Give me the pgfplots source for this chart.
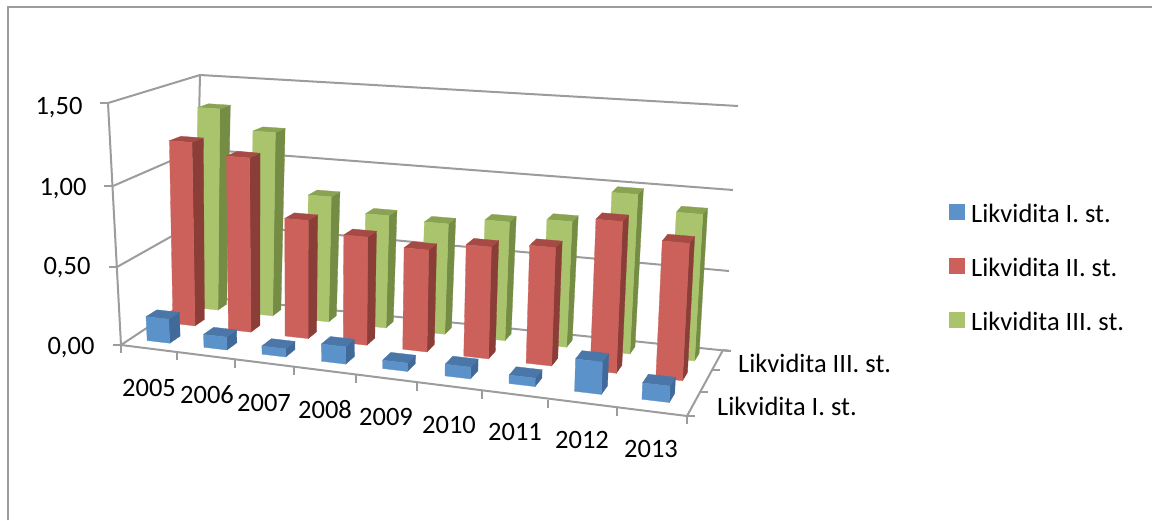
\documentclass[border=0pt]{standalone}
\usepackage{pgfplots}
\pgfplotsset{compat=1.18}
\usepackage{fontspec}
\setmainfont{Carlito}
\definecolor{gridc}{HTML}{9C9C9C}
\definecolor{frame}{HTML}{9C9C9C}
\definecolor{bF}{HTML}{5B92C9}\definecolor{bS}{HTML}{41699A}\definecolor{bT}{HTML}{4A76A8}
\definecolor{rF}{HTML}{CB615A}\definecolor{rS}{HTML}{8B3E38}\definecolor{rT}{HTML}{A54A44}
\definecolor{gF}{HTML}{A9C46C}\definecolor{gS}{HTML}{758C45}\definecolor{gT}{HTML}{8AA352}
% \proj{u}{d}{v}{\outx}{\outy}: u,d in cells (0..9, 0..3), v = value
\newcommand\proj[5]{%
 \pgfmathsetmacro\tu{(#1/9)/((#1/9)+1.115*(1-#1/9))}%
 \pgfmathsetmacro\td{(#2/3)/((#2/3)+0.87*(1-#2/3))}%
 \pgfmathsetmacro\tv{#3/1.5}%
 \pgfmathsetmacro\fx{(1-\tu)*(1-\td)*(122+\tv*(-14))+\tu*(1-\td)*(686+\tv*(12))+(1-\tu)*\td*(196+\tv*5)+\tu*\td*(722+\tv*15)}%
 \pgfmathsetmacro\fy{(1-\tu)*(1-\td)*(344-\tv*241)+\tu*(1-\td)*(412-\tv*262)+(1-\tu)*\td*(296-\tv*221)+\tu*\td*(350-\tv*244)}%
 \global\let#4\fx \global\let#5\fy}
\newcommand\poly[9]{%
 \edef\tmp{\noexpand\addplot[fill=#1,draw=#1,line width=.3pt,forget plot] coordinates {(#2,#3) (#4,#5) (#6,#7) (#8,#9)} -- cycle;}\tmp}
% \barbox{category index}{series index}{value}{front}{side}{top}
\newcommand\barbox[6]{%
 \pgfmathsetmacro\ua{#1+.3}\pgfmathsetmacro\ub{#1+.7}%
 \pgfmathsetmacro\da{#2+.3}\pgfmathsetmacro\db{#2+.7}%
 \proj{\ua}{\da}{0}\Ax\Ay \proj{\ub}{\da}{0}\Bx\By \proj{\ub}{\db}{0}\Cx\Cy
 \proj{\ua}{\da}{#3}\Dx\Dy \proj{\ub}{\da}{#3}\Ex\Ey \proj{\ub}{\db}{#3}\Fx\Fy \proj{\ua}{\db}{#3}\Gx\Gy
 \poly{#5}{\Bx}{\By}{\Cx}{\Cy}{\Fx}{\Fy}{\Ex}{\Ey}
 \poly{#6}{\Dx}{\Dy}{\Ex}{\Ey}{\Fx}{\Fy}{\Gx}{\Gy}
 \poly{#4}{\Ax}{\Ay}{\Bx}{\By}{\Ex}{\Ey}{\Dx}{\Dy}
}
\begin{document}
\begin{tikzpicture}
\begin{axis}[
 x=1pt,y=1pt,xmin=0,xmax=1152,ymin=0,ymax=520,y dir=reverse,
 axis lines=none,clip=false,scale only axis,
 every axis plot/.append style={mark=none},
 ]
\coordinate (bl) at (axis cs:0,520);
\coordinate (tr) at (axis cs:1152,0);
% frame
\addplot[frame,line width=2pt,forget plot] coordinates {(8,520) (8,7) (1152,7)};
% walls and grid
\addplot[gridc,line width=2pt,forget plot] coordinates {(108,103) (200,75) (738,106)};
\addplot[gridc,line width=2pt,forget plot] coordinates {(113,186) (198,149) (733,190)};
\addplot[gridc,line width=2pt,forget plot] coordinates {(117,267) (197,222) (729,271)};
\addplot[gridc,line width=2pt,forget plot] coordinates {(200,75) (195,296)};
\addplot[gridc,line width=2pt,forget plot] coordinates {(121,345) (195,296) (729,351)};
\addplot[gridc,line width=2pt,forget plot] coordinates {(121,345) (108,103)};
\addplot[gridc,line width=2pt,forget plot] coordinates {(121,345) (687,416) (723,350)};
% ticks
\addplot[gridc,line width=2pt,forget plot] coordinates {(100,103) (108,103)};
\addplot[gridc,line width=2pt,forget plot] coordinates {(104,186) (113,186)};
\addplot[gridc,line width=2pt,forget plot] coordinates {(109,267) (117,267)};
\addplot[gridc,line width=2pt,forget plot] coordinates {(113,345) (121,345)};
\addplot[gridc,line width=2pt,forget plot] coordinates {(121,345) (121,353)};
\addplot[gridc,line width=2pt,forget plot] coordinates {(177,352) (177,360)};
\addplot[gridc,line width=2pt,forget plot] coordinates {(235,360) (235,368)};
\addplot[gridc,line width=2pt,forget plot] coordinates {(294,367) (294,375)};
\addplot[gridc,line width=2pt,forget plot] coordinates {(356,375) (356,383)};
\addplot[gridc,line width=2pt,forget plot] coordinates {(417,383) (417,391)};
\addplot[gridc,line width=2pt,forget plot] coordinates {(482,391) (482,399)};
\addplot[gridc,line width=2pt,forget plot] coordinates {(548,400) (548,408)};
\addplot[gridc,line width=2pt,forget plot] coordinates {(617,408) (617,416)};
\addplot[gridc,line width=2pt,forget plot] coordinates {(687,416) (687,424)};
\addplot[gridc,line width=2pt,forget plot] coordinates {(687,416) (695,416)};
\addplot[gridc,line width=2pt,forget plot] coordinates {(700,392) (708,392)};
\addplot[gridc,line width=2pt,forget plot] coordinates {(712,370) (720,370)};
\addplot[gridc,line width=2pt,forget plot] coordinates {(723,350) (731,351)};
% Likvidita III. st.
\barbox{0}{2}{1.33}{gF}{gS}{gT}
\barbox{1}{2}{1.20}{gF}{gS}{gT}
\barbox{2}{2}{0.81}{gF}{gS}{gT}
\barbox{3}{2}{0.72}{gF}{gS}{gT}
\barbox{4}{2}{0.70}{gF}{gS}{gT}
\barbox{5}{2}{0.745}{gF}{gS}{gT}
\barbox{6}{2}{0.78}{gF}{gS}{gT}
\barbox{7}{2}{0.98}{gF}{gS}{gT}
\barbox{8}{2}{0.89}{gF}{gS}{gT}
% Likvidita II. st.
\barbox{0}{1}{1.18}{rF}{rS}{rT}
\barbox{1}{1}{1.11}{rF}{rS}{rT}
\barbox{2}{1}{0.745}{rF}{rS}{rT}
\barbox{3}{1}{0.675}{rF}{rS}{rT}
\barbox{4}{1}{0.63}{rF}{rS}{rT}
\barbox{5}{1}{0.685}{rF}{rS}{rT}
\barbox{6}{1}{0.717}{rF}{rS}{rT}
\barbox{7}{1}{0.91}{rF}{rS}{rT}
\barbox{8}{1}{0.815}{rF}{rS}{rT}
% Likvidita I. st.
\barbox{0}{0}{0.15}{bF}{bS}{bT}
\barbox{1}{0}{0.08}{bF}{bS}{bT}
\barbox{2}{0}{0.05}{bF}{bS}{bT}
\barbox{3}{0}{0.105}{bF}{bS}{bT}
\barbox{4}{0}{0.05}{bF}{bS}{bT}
\barbox{5}{0}{0.07}{bF}{bS}{bT}
\barbox{6}{0}{0.05}{bF}{bS}{bT}
\barbox{7}{0}{0.19}{bF}{bS}{bT}
\barbox{8}{0}{0.095}{bF}{bS}{bT}
% legend swatches
\addplot[fill=bF,draw=bF,forget plot] coordinates {(949,204) (964,204) (964,219) (949,219)} -- cycle;
\addplot[fill=rF,draw=rF,forget plot] coordinates {(949,258) (964,258) (964,273) (949,273)} -- cycle;
\addplot[fill=gF,draw=gF,forget plot] coordinates {(949,312) (964,312) (964,327) (949,327)} -- cycle;
\tikzset{lab/.style={font=\fontsize{26.5}{30}\selectfont,inner sep=0pt,text=black}}
\node[lab,anchor=west] at (axis cs:971,213) {Likvidita I. st.};
\node[lab,anchor=west] at (axis cs:971,267) {Likvidita II. st.};
\node[lab,anchor=west] at (axis cs:971,321) {Likvidita III. st.};
\node[lab,anchor=west] at (axis cs:738,363) {Likvidita III. st.};
\node[lab,anchor=west] at (axis cs:717,406) {Likvidita I. st.};
\node[lab] at (axis cs:59,108) {1,50};
\node[lab] at (axis cs:63,189) {1,00};
\node[lab] at (axis cs:67,268) {0,50};
\node[lab] at (axis cs:71,348) {0,00};
\node[lab] at (axis cs:149,388) {2005};
\node[lab] at (axis cs:207,395) {2006};
\node[lab] at (axis cs:264,403) {2007};
\node[lab] at (axis cs:325,410) {2008};
\node[lab] at (axis cs:386,417) {2009};
\node[lab] at (axis cs:449,425) {2010};
\node[lab] at (axis cs:515,432) {2011};
\node[lab] at (axis cs:582,440) {2012};
\node[lab] at (axis cs:651,449) {2013};
\end{axis}
\pgfresetboundingbox
\path[use as bounding box] (bl) rectangle (tr);
\end{tikzpicture}
\end{document}
